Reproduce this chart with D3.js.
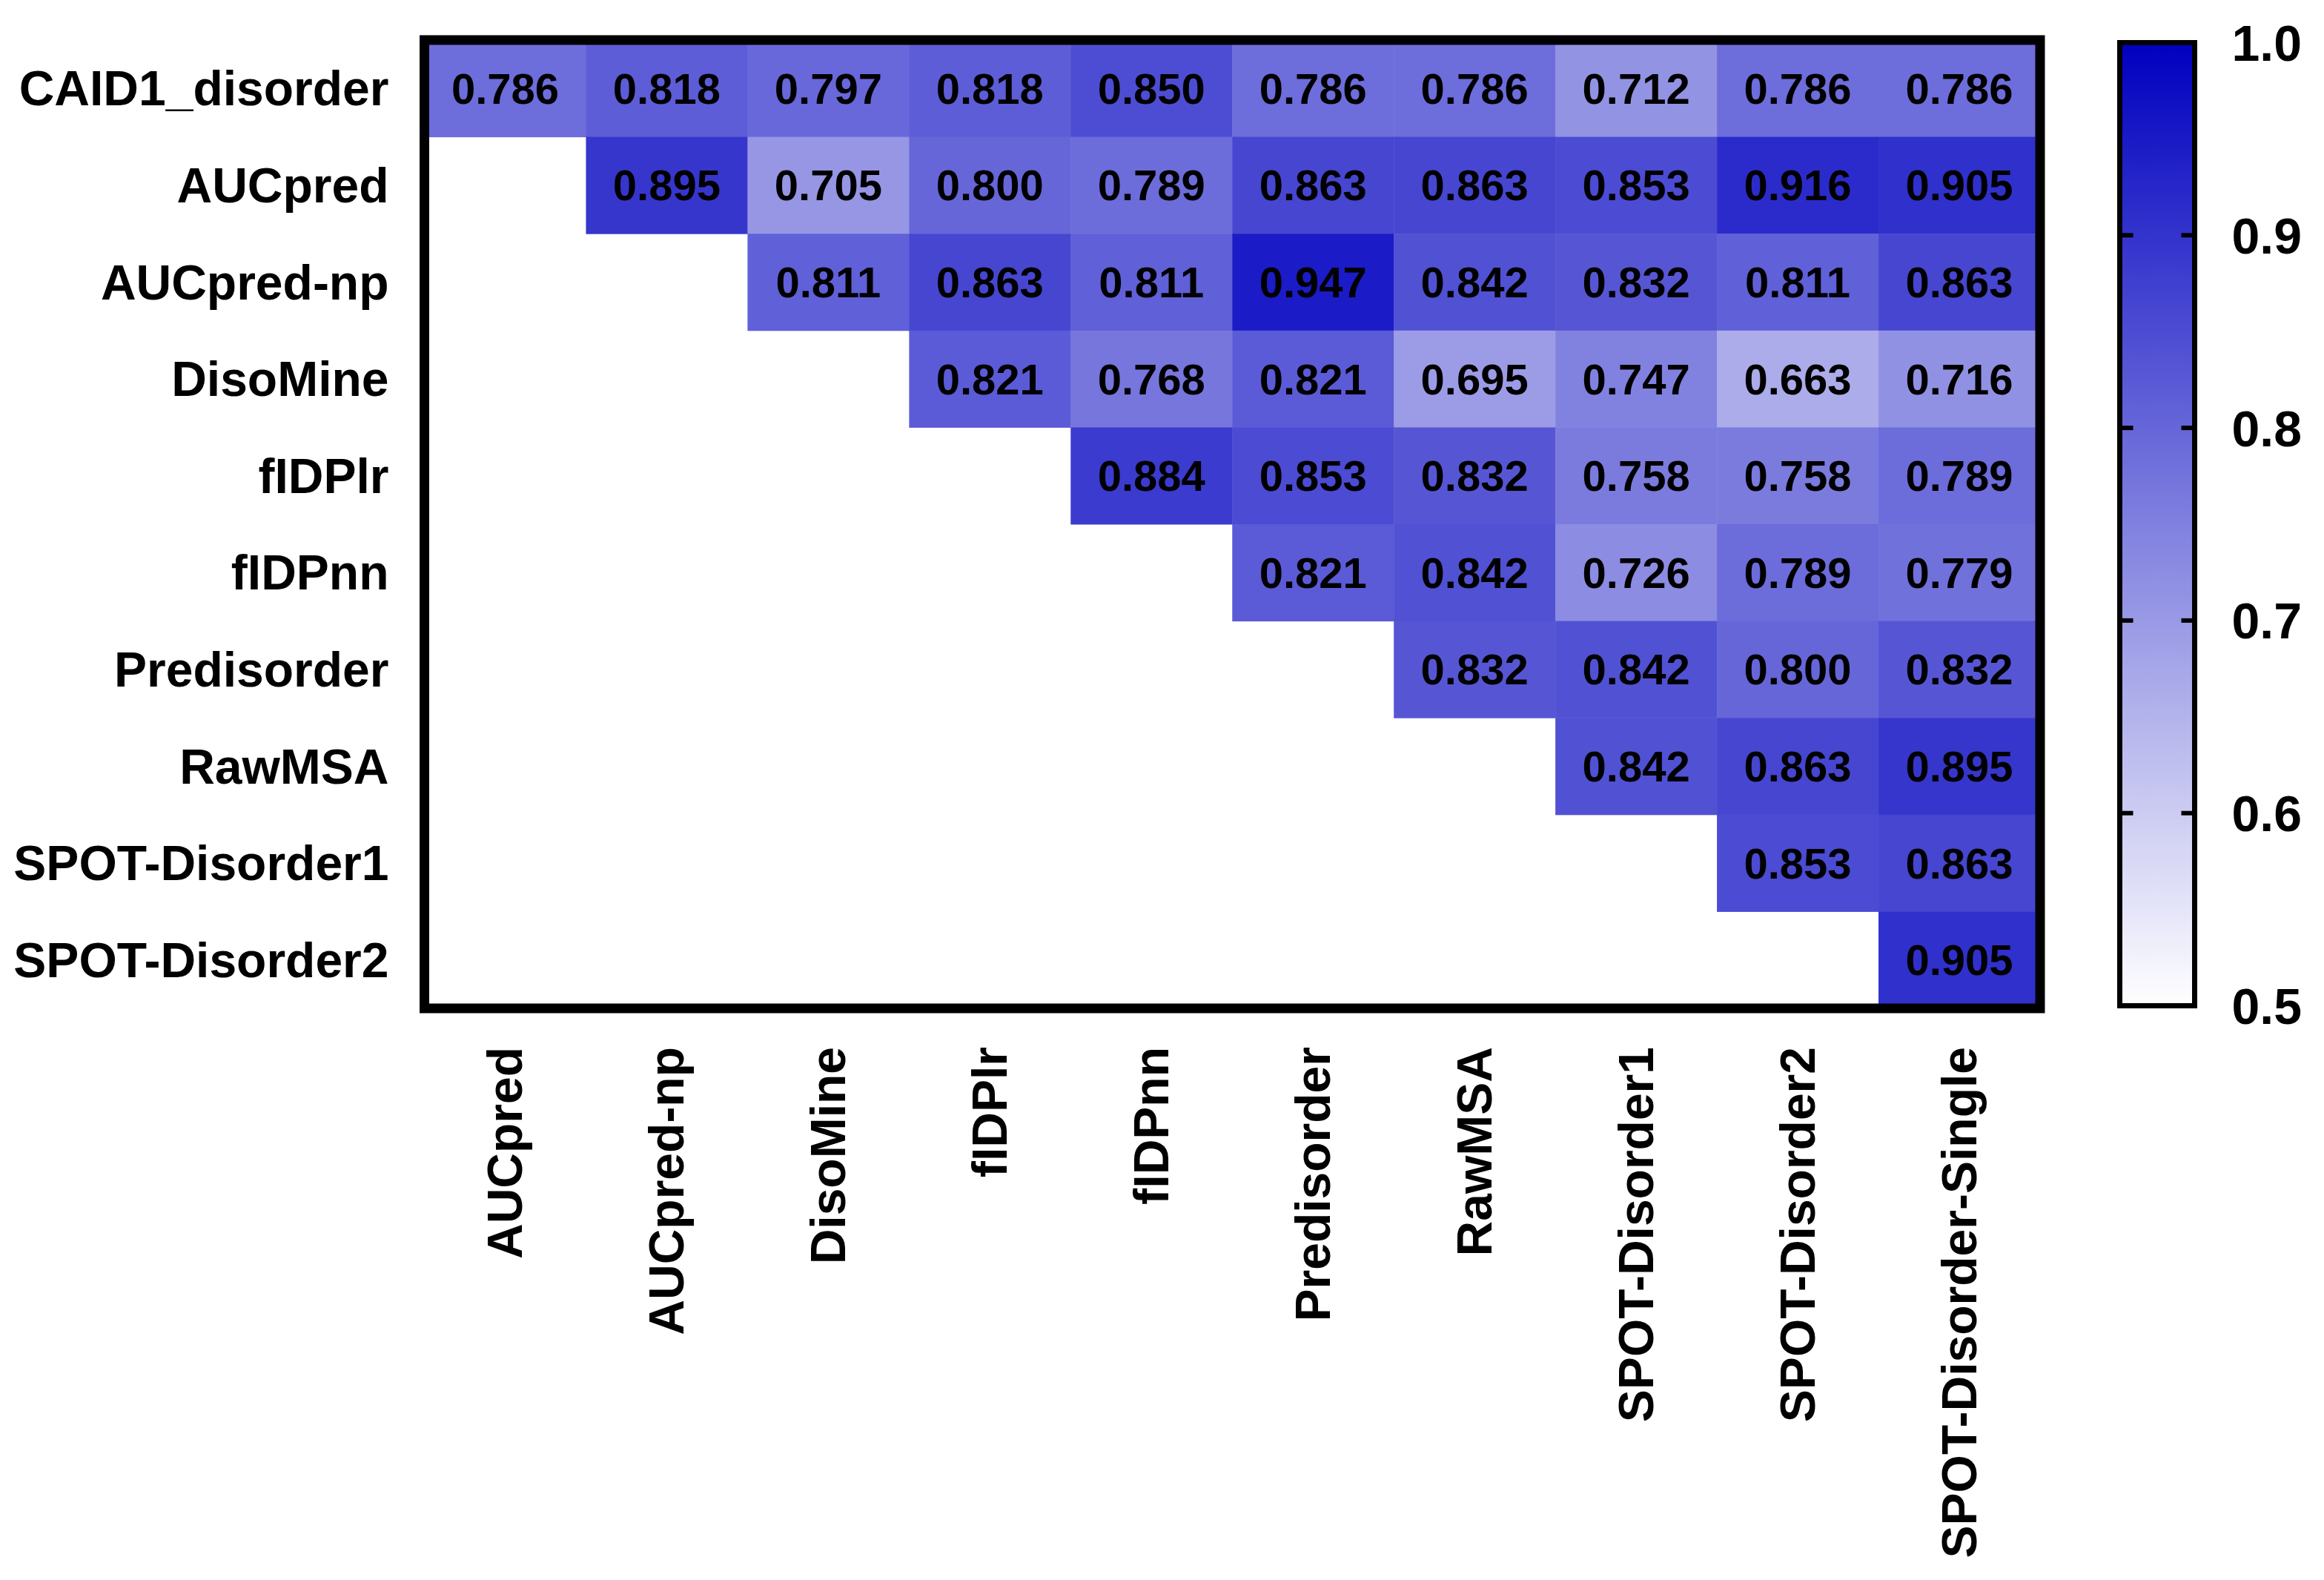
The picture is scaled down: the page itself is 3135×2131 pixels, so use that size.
<!DOCTYPE html>
<html>
<head>
<meta charset="utf-8">
<script src="https://cdn.jsdelivr.net/npm/d3@7"></script>
<style>
  body { margin: 0; background: #fff; }
  text { font-family: "Liberation Sans", Arial, sans-serif; font-weight: bold; }
</style>
</head>
<body>
<div class="canvas"></div>
<script>
// row and column names
const rowNames = ['CAID1_disorder', 'AUCpred', 'AUCpred-np', 'DisoMine', 'fIDPlr',
    'fIDPnn', 'Predisorder', 'RawMSA', 'SPOT-Disorder1', 'SPOT-Disorder2'];
const colNames = ['AUCpred', 'AUCpred-np', 'DisoMine', 'fIDPlr', 'fIDPnn',
    'Predisorder', 'RawMSA', 'SPOT-Disorder1', 'SPOT-Disorder2', 'SPOT-Disorder-Single'];

// upper triangle values, row i starts at column i
const rowValues = [
    [0.786, 0.818, 0.797, 0.818, 0.850, 0.786, 0.786, 0.712, 0.786, 0.786],
    [0.895, 0.705, 0.800, 0.789, 0.863, 0.863, 0.853, 0.916, 0.905],
    [0.811, 0.863, 0.811, 0.947, 0.842, 0.832, 0.811, 0.863],
    [0.821, 0.768, 0.821, 0.695, 0.747, 0.663, 0.716],
    [0.884, 0.853, 0.832, 0.758, 0.758, 0.789],
    [0.821, 0.842, 0.726, 0.789, 0.779],
    [0.832, 0.842, 0.800, 0.832],
    [0.842, 0.863, 0.895],
    [0.853, 0.863],
    [0.905]
];

// colour bar ticks
const barTicks = [0.5, 0.6, 0.7, 0.8, 0.9, 1.0];
const colorDomain = [0.5, 1.0];

const width = 3135;
const height = 2131;

const svg = d3.select('.canvas')
    .append('svg')
    .attr('width', width)
    .attr('height', height);

// heatmap area
const grid = { left: 572.5, top: 54, right: 2752, bottom: 1360 };

const x = d3.scaleBand()
    .domain(colNames)
    .range([grid.left, grid.right]);

const y = d3.scaleBand()
    .domain(rowNames)
    .range([grid.top, grid.bottom]);

const color = d3.scaleLinear()
    .domain(colorDomain)
    .range(['#ffffff', '#0000c0'])
    .interpolate(d3.interpolateRgb)
    .clamp(true);

// flatten the triangle into cells
const cells = [];
rowValues.forEach((vals, i) => {
    vals.forEach((v, k) => {
        cells.push({ row: rowNames[i], col: colNames[i + k], value: v });
    });
});

svg.append('g')
    .selectAll('rect')
    .data(cells)
    .enter()
    .append('rect')
    .attr('x', d => x(d.col))
    .attr('y', d => y(d.row))
    .attr('width', x.bandwidth() + 0.5)
    .attr('height', y.bandwidth() + 0.5)
    .attr('fill', d => color(d.value));

svg.append('g')
    .selectAll('text')
    .data(cells)
    .enter()
    .append('text')
    .attr('x', d => x(d.col) + x.bandwidth() / 2)
    .attr('y', d => y(d.row) + y.bandwidth() / 2)
    .attr('text-anchor', 'middle')
    .attr('dominant-baseline', 'central')
    .attr('font-size', 58)
    .attr('fill', '#000')
    .text(d => d3.format('.3f')(d.value));

// frame
svg.append('rect')
    .attr('x', grid.left)
    .attr('y', grid.top)
    .attr('width', grid.right - grid.left)
    .attr('height', grid.bottom - grid.top)
    .attr('fill', 'none')
    .attr('stroke', '#000')
    .attr('stroke-width', 13);

// row labels
const yAxisGroup = svg.append('g')
    .attr('transform', `translate(${grid.left - 6},0)`)
    .call(d3.axisLeft(y).tickSize(0).tickPadding(42));
yAxisGroup.select('.domain').remove();
yAxisGroup.selectAll('text')
    .attr('font-size', 66)
    .attr('font-family', '"Liberation Sans", Arial, sans-serif')
    .attr('fill', '#000')
    .attr('dy', null)
    .attr('dominant-baseline', 'central');

// column labels, rotated
const xAxisGroup = svg.append('g')
    .attr('transform', `translate(0,${grid.bottom + 6})`)
    .call(d3.axisBottom(x).tickSize(0).tickPadding(0));
xAxisGroup.select('.domain').remove();
xAxisGroup.selectAll('text')
    .attr('font-size', 66)
    .attr('font-family', '"Liberation Sans", Arial, sans-serif')
    .attr('fill', '#000')
    .attr('y', 0)
    .attr('dy', null)
    .attr('transform', 'translate(0,46) rotate(-90)')
    .attr('text-anchor', 'end')
    .attr('dominant-baseline', 'central');

// colour bar
const bar = { left: 2859.5, right: 2960.5, top: 57.5, bottom: 1356.5 };

const barScale = d3.scaleLinear()
    .domain(colorDomain)
    .range([bar.bottom, bar.top]);

const grad = svg.append('defs')
    .append('linearGradient')
    .attr('id', 'barGrad')
    .attr('x1', 0).attr('y1', 1)
    .attr('x2', 0).attr('y2', 0);

grad.selectAll('stop')
    .data(d3.range(0, 1.0001, 0.1))
    .enter()
    .append('stop')
    .attr('offset', d => d)
    .attr('stop-color', d => color(colorDomain[0] + d * (colorDomain[1] - colorDomain[0])));

svg.append('rect')
    .attr('x', bar.left)
    .attr('y', bar.top)
    .attr('width', bar.right - bar.left)
    .attr('height', bar.bottom - bar.top)
    .attr('fill', 'url(#barGrad)')
    .attr('stroke', '#000')
    .attr('stroke-width', 7);

// inner tick marks on both edges
const inner = barTicks.slice(1, -1);
svg.append('g')
    .selectAll('line.left')
    .data(inner)
    .enter()
    .append('line')
    .attr('x1', bar.left)
    .attr('x2', bar.left + 18)
    .attr('y1', d => barScale(d))
    .attr('y2', d => barScale(d))
    .attr('stroke', '#000')
    .attr('stroke-width', 6);

svg.append('g')
    .selectAll('line.right')
    .data(inner)
    .enter()
    .append('line')
    .attr('x1', bar.right - 18)
    .attr('x2', bar.right)
    .attr('y1', d => barScale(d))
    .attr('y2', d => barScale(d))
    .attr('stroke', '#000')
    .attr('stroke-width', 6);

const barAxis = svg.append('g')
    .attr('transform', `translate(${bar.right},0)`)
    .call(d3.axisRight(barScale)
        .tickValues(barTicks)
        .tickFormat(d3.format('.1f'))
        .tickSize(0)
        .tickPadding(50));
barAxis.select('.domain').remove();
barAxis.selectAll('text')
    .attr('font-size', 68)
    .attr('font-family', '"Liberation Sans", Arial, sans-serif')
    .attr('fill', '#000')
    .attr('dy', null)
    .attr('dominant-baseline', 'central');
</script>
</body>
</html>
